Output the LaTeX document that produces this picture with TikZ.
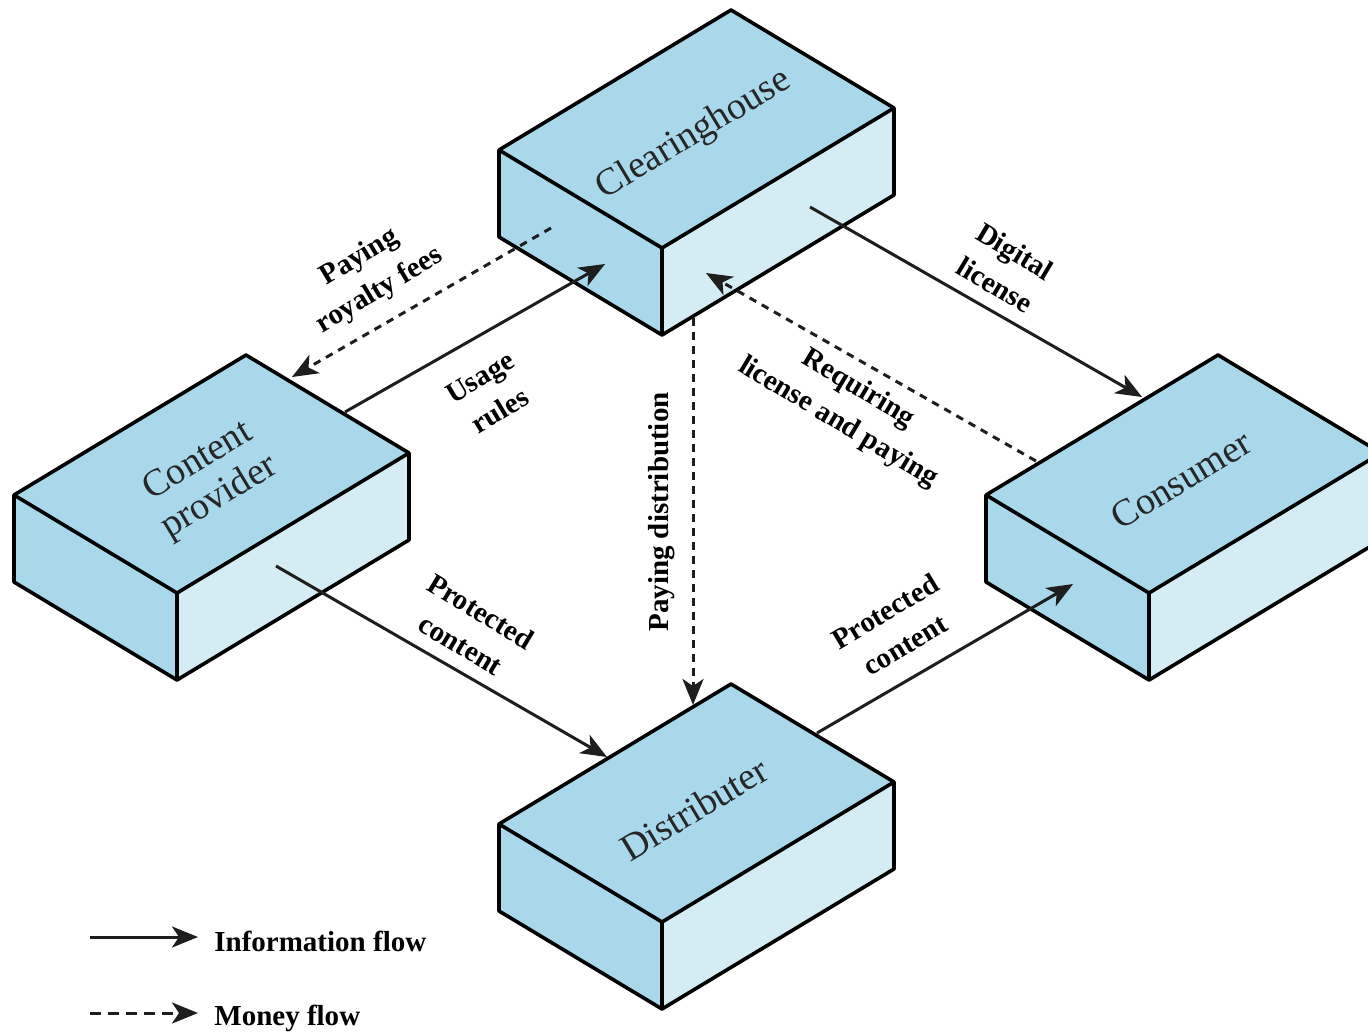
\documentclass[tikz,border=0pt]{standalone}
\usepackage{fontspec}
\setmainfont{Liberation Serif}
\usetikzlibrary{arrows.meta,calc}
\definecolor{topc}{RGB}{168,216,234}
\definecolor{sidec}{RGB}{212,236,243}
\definecolor{inkc}{RGB}{30,30,30}
\tikzset{
  edgeline/.style={draw=black, line width=1.8pt, line join=round},
  info/.style={draw=inkc, line width=1.5pt, -{Stealth[length=13pt,width=10.5pt,inset=3.5pt]}},
  money/.style={info, dash pattern=on 3.8pt off 3.2pt},
  legendmoney/.style={info, dash pattern=on 5.5pt off 3.5pt},
  flowlabel/.style={font=\fontsize{14.5}{19.5}\selectfont\bfseries, align=center, inner sep=0pt, text=black},
  boxlabel/.style={font=\fontsize{19}{21}\selectfont, align=center, inner sep=0pt, rotate=31, text=black!85},
  legendlabel/.style={font=\fontsize{14.5}{17}\selectfont\bfseries, inner sep=0pt, anchor=base west},
}
\newcommand\drmbox[4]{%
  \begin{scope}[shift={(#1,#2)}]
    \fill[topc] (0,0) -- (232,-140) -- (395,-42) -- (163,98) -- cycle;
    \fill[topc] (0,0) -- (163,98) -- (163,185) -- (0,87) -- cycle;
    \fill[sidec] (163,98) -- (395,-42) -- (395,45) -- (163,185) -- cycle;
    \draw[edgeline] (0,0) -- (232,-140) -- (395,-42) -- (395,45) -- (163,185) -- (0,87) -- cycle;
    \draw[edgeline] (0,0) -- (163,98) -- (395,-42) (163,98) -- (163,185);
    \node[boxlabel] (#3) at (195,-15) {#4};
  \end{scope}%
}
\begin{document}
\begin{tikzpicture}[x=0.5pt,y=-0.5pt]
\useasboundingbox (0,0) rectangle (1368,1032);
\clip (0,0) rectangle (1368,1032);
\fill[white] (0,0) rectangle (1368,1032);

% boxes
\drmbox{499}{150}{ch}{Clearinghouse}
\drmbox{14}{495}{cp}{Content\\provider}
\drmbox{986}{495}{cons}{Consumer}
\drmbox{499}{824}{dist}{Distributer}

% connector end points
\coordinate (royS) at (551,228);  \coordinate (royE) at (292,377);
\coordinate (useS) at (345,412);  \coordinate (useE) at (605,264);
\coordinate (licS) at (810,207);  \coordinate (licE) at (1142,397);
\coordinate (reqS) at (1036,461); \coordinate (reqE) at (706,273);
\coordinate (disS) at (693,318);  \coordinate (disE) at (693,705);
\coordinate (pcaS) at (276,566);  \coordinate (pcaE) at (607,757);
\coordinate (pcbS) at (817,733);  \coordinate (pcbE) at (1073,584);

\draw[money] (royS) -- (royE);
\draw[info]  (useS) -- (useE);
\draw[info]  (licS) -- (licE);
\draw[money] (reqS) -- (reqE);
\draw[money] (disS) -- (disE);
\draw[info]  (pcaS) -- (pcaE);
\draw[info]  (pcbS) -- (pcbE);

% labels
\node[flowlabel, rotate=31]  (lroy) at (370,274) {Paying\\royalty fees};
\node[flowlabel, rotate=31]  (luse) at (490,394) {Usage\\rules};
\node[flowlabel, rotate=-31] (llic) at (1005,268) {Digital\\license};
\node[flowlabel, rotate=-31] (lreq) at (848,406) {Requiring\\license and paying};
\node[flowlabel, rotate=90]  (ldis) at (662,512) {Paying distribution};
\node[flowlabel, rotate=-31] (lpca) at (471,628) {Protected\\content};
\node[flowlabel, rotate=31]  (lpcb) at (895,628) {Protected\\content};

% legend
\coordinate (legaS) at (90,937);  \coordinate (legaE) at (198,937);
\coordinate (legbS) at (90,1013); \coordinate (legbE) at (198,1013);
\draw[info]  (legaS) -- (legaE);
\draw[legendmoney] (legbS) -- (legbE);
\node[legendlabel] (lega) at (214,951) {Information flow};
\node[legendlabel] (legb) at (214,1025) {Money flow};
\end{tikzpicture}
\end{document}
